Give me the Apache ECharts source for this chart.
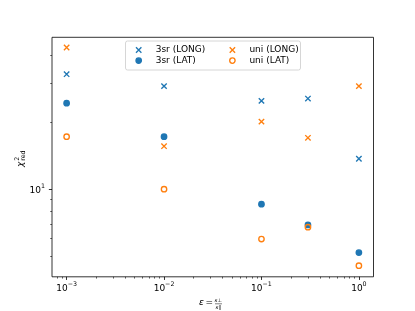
<!DOCTYPE html>
<html>
<head>
<meta charset="utf-8">
<script src="https://cdn.jsdelivr.net/npm/echarts@6/dist/echarts.min.js"></script>
<style>html,body{margin:0;padding:0;background:#fff;}#c{width:415px;height:311px;}</style>
</head>
<body>
<div id="c"></div>
<script>
const eps = [0.001, 0.01, 0.1, 0.3, 1];
const sr3Long = [32.8, 29.0, 24.9, 25.5, 13.7];
const sr3Lat = [24.3, 17.2, 8.57, 6.92, 5.20];
const uniLong = [43.2, 15.6, 20.1, 17.0, 29.0];
const uniLat = [17.2, 10.0, 5.98, 6.76, 4.54];
const xMajorTicks = [0.001, 0.01, 0.1, 1];
const xMinorTicks = [0.0008, 0.0009, 0.002, 0.003, 0.004, 0.005, 0.006, 0.007, 0.008, 0.009,
  0.02, 0.03, 0.04, 0.05, 0.06, 0.07, 0.08, 0.09, 0.2, 0.3, 0.4, 0.5, 0.6, 0.7, 0.8, 0.9];
const yMajorTicks = [10];
const yMinorTicks = [5, 6, 7, 8, 9, 20, 30, 40];

const BLUE = '#1f77b4', ORANGE = '#ff7f0e';
const FONT = 'DejaVu Sans';
const xMin = Math.pow(10, -3.15), xMax = Math.pow(10, 0.15);
const yMin = 4.05, yMax = 48.0;

const pts = arr => eps.map((e, i) => [e, arr[i]]);
const crossPath = 'path://M0,0L10,10M10,0L0,10';

function powLabel(v) {
  const e = Math.round(Math.log10(v));
  return '{b|10}{s|' + (e < 0 ? '\u2212' : '') + Math.abs(e) + '}';
}
const richLab = {
  b: {fontFamily: FONT, fontSize: 9, color: '#000', lineHeight: 11, verticalAlign: 'bottom'},
  s: {fontFamily: FONT, fontSize: 6.3, color: '#000', lineHeight: 4, verticalAlign: 'top'}
};

const chart = echarts.init(document.getElementById('c'), null, {renderer: 'canvas'});
const legendText = {fontFamily: FONT, fontSize: 9, color: '#000'};
const legendCommon = {orient: 'vertical', top: 44.8, padding: 0, itemGap: 0.9,
  itemWidth: 24, itemHeight: 5.4, textStyle: legendText, selectedMode: false, z: 20,
  itemStyle: {borderWidth: 1.35}};
chart.setOption({
  animation: false,
  backgroundColor: '#fff',
  grid: {left: 52, right: 41.5, top: 37.3, bottom: 34.2, show: true, borderColor: '#000', borderWidth: 0.8, backgroundColor: 'transparent'},
  xAxis: [
    {type: 'log', min: xMin, max: xMax, position: 'bottom', splitLine: {show: false},
     axisLine: {show: false},
     axisTick: {show: true, length: 3.15, lineStyle: {color: '#000', width: 0.8}, customValues: xMajorTicks},
     axisLabel: {show: true, margin: 5, customValues: xMajorTicks, formatter: powLabel, rich: richLab}},
    {type: 'log', min: xMin, max: xMax, position: 'bottom', splitLine: {show: false},
     axisLine: {show: false},
     axisTick: {show: true, length: 1.8, lineStyle: {color: '#000', width: 0.6}, customValues: xMinorTicks},
     axisLabel: {show: false}}
  ],
  yAxis: [
    {type: 'log', min: yMin, max: yMax, position: 'left', splitLine: {show: false},
     axisLine: {show: false},
     axisTick: {show: true, length: 3.15, lineStyle: {color: '#000', width: 0.8}, customValues: yMajorTicks},
     axisLabel: {show: true, margin: 7, customValues: yMajorTicks, formatter: powLabel, rich: richLab}},
    {type: 'log', min: yMin, max: yMax, position: 'left', splitLine: {show: false},
     axisLine: {show: false},
     axisTick: {show: true, length: 1.8, lineStyle: {color: '#000', width: 0.6}, customValues: yMinorTicks},
     axisLabel: {show: false}}
  ],
  legend: [
    Object.assign({data: ['3sr (LONG)', '3sr (LAT)'], left: 133.5}, legendCommon),
    Object.assign({data: ['uni (LONG)', 'uni (LAT)'], left: 227.2}, legendCommon)
  ],
  graphic: [
    {type: 'rect', shape: {x: 125.5, y: 41, width: 175, height: 29, r: 2}, z: 10,
     style: {fill: 'rgba(255,255,255,0.8)', stroke: '#cccccc', lineWidth: 0.8}},
    {type: 'group', x: 21, y: 167, rotation: Math.PI / 2, children: [
      {type: 'text', x: 0, y: 0, style: {text: '\u03c7', fontFamily: FONT, fontSize: 9, fontStyle: 'italic', fill: '#000', align: 'left', verticalAlign: 'middle'}},
      {type: 'text', x: 6.2, y: -3.3, style: {text: '2', fontFamily: FONT, fontSize: 6.3, fill: '#000', align: 'left', verticalAlign: 'middle'}},
      {type: 'text', x: 6.2, y: 2.6, style: {text: 'red', fontFamily: FONT, fontSize: 6.3, fill: '#000', align: 'left', verticalAlign: 'middle'}}
    ]},
    {type: 'text', x: 199, y: 302.7, style: {text: '\u03b5', fontFamily: FONT, fontSize: 9, fontStyle: 'italic', fill: '#000', align: 'left', verticalAlign: 'middle'}},
    {type: 'text', x: 205.5, y: 302.7, style: {text: '=', fontFamily: FONT, fontSize: 9, fill: '#000', align: 'left', verticalAlign: 'middle'}},
    {type: 'text', x: 218.3, y: 300.6, style: {text: '\u03ba\u22a5', fontFamily: FONT, fontSize: 5.2, fontStyle: 'italic', fill: '#000', align: 'center', verticalAlign: 'middle'}},
    {type: 'line', shape: {x1: 215, y1: 303.8, x2: 222, y2: 303.8}, style: {stroke: '#000', lineWidth: 0.5}},
    {type: 'text', x: 218.3, y: 307.2, style: {text: '\u03ba\u2225', fontFamily: FONT, fontSize: 5.2, fontStyle: 'italic', fill: '#000', align: 'center', verticalAlign: 'middle'}}
  ],
  series: [
    {name: '3sr (LONG)', type: 'scatter', data: pts(sr3Long), symbol: crossPath, symbolSize: 5.4,
     itemStyle: {color: 'none', borderColor: BLUE, borderWidth: 1.35, opacity: 1}, z: 2},
    {name: '3sr (LAT)', type: 'scatter', data: pts(sr3Lat), symbol: 'circle', symbolSize: 5.4,
     itemStyle: {color: BLUE, borderColor: BLUE, borderWidth: 1.35, opacity: 1}, z: 3},
    {name: 'uni (LONG)', type: 'scatter', data: pts(uniLong), symbol: crossPath, symbolSize: 5.4,
     itemStyle: {color: 'none', borderColor: ORANGE, borderWidth: 1.35, opacity: 1}, z: 4},
    {name: 'uni (LAT)', type: 'scatter', data: pts(uniLat), symbol: 'circle', symbolSize: 5.4,
     itemStyle: {color: 'rgba(255,255,255,0)', borderColor: ORANGE, borderWidth: 1.35, opacity: 1}, z: 5}
  ]
});
</script>
</body>
</html>
